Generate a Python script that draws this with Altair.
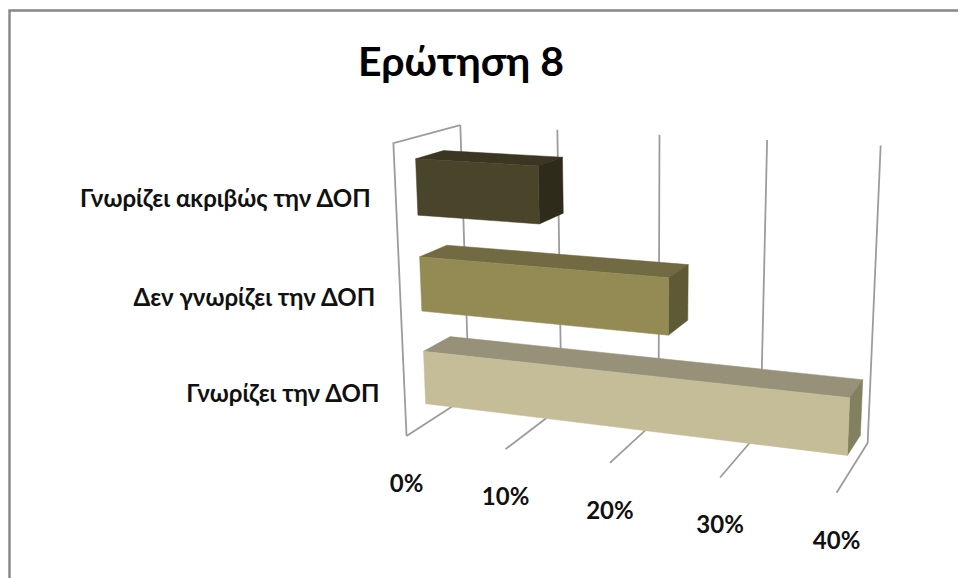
import altair as alt
import numpy as np
import pandas as pd

# Chart content
TITLE = "Ερώτηση 8"
CATEGORIES = ["Γνωρίζει ακριβώς την ΔΟΠ", "Δεν γνωρίζει την ΔΟΠ", "Γνωρίζει την ΔΟΠ"]
VALUES = [12, 24, 40]
TICKS = [0, 10, 20, 30, 40]
FRONT_COLORS = ["#4A442A", "#948A54", "#C4BD97"]
TOP_COLORS = ["#3B3621", "#716A42", "#97917A"]
SIDE_COLORS = ["#2F2B1A", "#5F5A36", "#82805F"]

AXIS_MAX = 40
DEPTH_RANGE = (0.30, 0.72)
BAR_HALF_HEIGHT = 0.095
FONT = "Lato"
GRID_COLOR = "#9C9C9C"

# Camera calibration for the oblique view: (value, depth, height) -> screen position.
CAMERA_POINTS = [
    (0, 1, 1, 460.3, 125.0), (10, 1, 1, 557.3, 130.0), (20, 1, 1, 660.0, 134.3),
    (30, 1, 1, 766.7, 140.0), (40, 1, 1, 880.7, 145.7),
    (0, 1, 0, 469.0, 396.0), (10, 1, 0, 561.5, 407.0), (20, 1, 0, 659.0, 418.0),
    (30, 1, 0, 760.0, 431.0), (40, 1, 0, 867.7, 441.7),
    (0, 0, 0, 406.7, 435.0), (10, 0, 0, 505.3, 449.0), (20, 0, 0, 610.0, 463.3),
    (30, 0, 0, 720.0, 477.7), (40, 0, 0, 836.7, 493.3),
    (0, 0, 1, 393.3, 143.3),
]


def fit_camera(points):
    rows, rhs = [], []
    for v, d, z, u, w in points:
        X = [v / AXIS_MAX, d, z, 1.0]
        rows.append(X + [0, 0, 0, 0] + [-u * c for c in X[:3]])
        rhs.append(u)
        rows.append([0, 0, 0, 0] + X + [-w * c for c in X[:3]])
        rhs.append(w)
    p = np.linalg.lstsq(np.array(rows), np.array(rhs), rcond=None)[0]
    return np.append(p, 1.0).reshape(3, 4)


CAMERA = fit_camera(CAMERA_POINTS)


def project(value, depth, height):
    h = CAMERA @ np.array([value / AXIS_MAX, depth, height, 1.0])
    return [float(h[0] / h[2]), float(h[1] / h[2])]


def feature(coords, kind, **props):
    geometry = {"type": kind, "coordinates": [coords] if kind == "Polygon" else coords}
    return {"type": "Feature", "geometry": geometry, "properties": props}


# Wall outline, tick lines on the floor and the back wall
grid_lines = []
for t in TICKS:
    grid_lines.append(feature([project(t, 0, 0), project(t, 1, 0), project(t, 1, 1)], "LineString"))
grid_lines.append(feature([project(0, 1, 1), project(0, 0, 1), project(0, 0, 0)], "LineString"))

# Three visible faces per bar, drawn from the back of the stack forward
faces = []
d0, d1 = DEPTH_RANGE
for i, (value, front, top, side) in enumerate(zip(VALUES, FRONT_COLORS, TOP_COLORS, SIDE_COLORS)):
    mid = 1 - (i + 0.5) / len(CATEGORIES)
    z0, z1 = mid - BAR_HALF_HEIGHT, mid + BAR_HALF_HEIGHT
    quad_top = [project(0, d0, z1), project(value, d0, z1), project(value, d1, z1), project(0, d1, z1)]
    quad_side = [project(value, d0, z0), project(value, d1, z0), project(value, d1, z1), project(value, d0, z1)]
    quad_front = [project(0, d0, z0), project(value, d0, z0), project(value, d0, z1), project(0, d0, z1)]
    for n, (quad, color) in enumerate(((quad_top, top), (quad_side, side), (quad_front, front))):
        faces.append(feature(quad + [quad[0]], "Polygon", color=color, rank=i * 3 + n))

screen = dict(type="identity", scale=1, translate=[0, 0])

frame = alt.Chart(alt.Data(values=[feature([[9.5, 578], [9.5, 10.5], [958, 10.5]], "LineString")])).mark_geoshape(
    filled=False, stroke="#868686", strokeWidth=2.4
).project(**screen)

grid = alt.Chart(alt.Data(values=grid_lines)).mark_geoshape(
    filled=False, stroke=GRID_COLOR, strokeWidth=1.8
).project(**screen)

bars = alt.Chart(alt.Data(values=faces)).mark_geoshape(strokeWidth=0.5).encode(
    fill=alt.Fill("properties.color:N", scale=None),
    stroke=alt.Stroke("properties.color:N", scale=None),
    order=alt.Order("properties.rank:Q"),
).project(**screen)

px = alt.X("x:Q", scale=None, axis=None)
py = alt.Y("y:Q", scale=None, axis=None)

tick_table = pd.DataFrame(
    {
        "label": [f"{t}%" for t in TICKS],
        "x": [project(t, 0, 0)[0] for t in TICKS],
        "y": [project(t, 0, 0)[1] + 49 for t in TICKS],
    }
)
tick_text = alt.Chart(tick_table).mark_text(font=FONT, fontSize=24, fontWeight="bold", color="#111111").encode(
    x=px, y=py, text="label:N"
)

cat_table = pd.DataFrame(
    {
        "label": CATEGORIES,
        "x": [project(0, 0, 1 - (i + 0.5) / 3)[0] - 25 for i in range(3)],
        "y": [project(0, 0, 1 - (i + 0.5) / 3)[1] + 5.5 for i in range(3)],
    }
)
cat_text = alt.Chart(cat_table).mark_text(
    font=FONT, fontSize=24, fontWeight="bold", align="right", color="#111111"
).encode(x=px, y=py, text="label:N")

title_table = pd.DataFrame({"label": [TITLE], "x": [461], "y": [64]})
title_text = alt.Chart(title_table).mark_text(font=FONT, fontSize=41, fontWeight="bold", color="#000000").encode(
    x=px, y=py, text="label:N"
)

chart = (
    alt.layer(frame, grid, bars, tick_text, cat_text, title_text)
    .properties(width=958, height=578, padding=0, autosize=alt.AutoSizeParams(type="none"), background="#FFFFFF")
    .configure_view(stroke=None)
)

chart.save("out.html", embed_options={"renderer": "svg", "actions": False})
